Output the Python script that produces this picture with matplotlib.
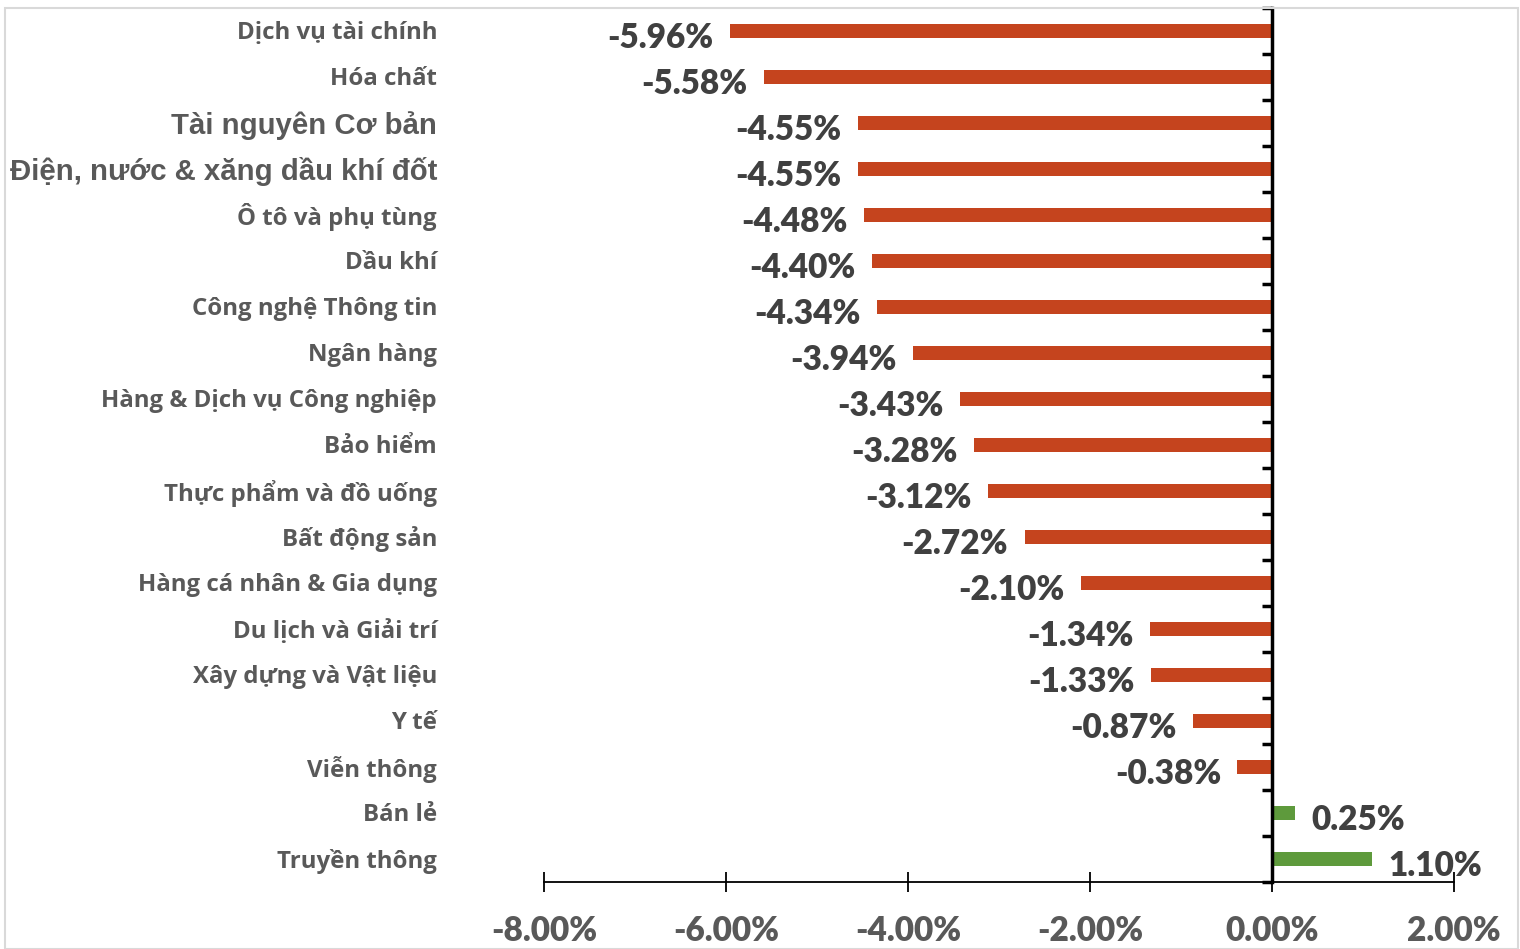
import matplotlib
matplotlib.use("Agg")
import matplotlib.pyplot as plt
from matplotlib.patches import Rectangle

categories = ["Dịch vụ tài chính", "Hóa chất", "Tài nguyên Cơ bản",
              "Điện, nước & xăng dầu khí đốt", "Ô tô và phụ tùng", "Dầu khí",
              "Công nghệ Thông tin", "Ngân hàng", "Hàng & Dịch vụ Công nghiệp",
              "Bảo hiểm", "Thực phẩm và đồ uống", "Bất động sản",
              "Hàng cá nhân & Gia dụng", "Du lịch và Giải trí",
              "Xây dựng và Vật liệu", "Y tế", "Viễn thông", "Bán lẻ", "Truyền thông"]
values = [-5.96, -5.58, -4.55, -4.55, -4.48, -4.40, -4.34, -3.94, -3.43, -3.28,
          -3.12, -2.72, -2.10, -1.34, -1.33, -0.87, -0.38, 0.25, 1.10]
xticks = [-8, -6, -4, -2, 0, 2]
xticklabels = ["-8.00%", "-6.00%", "-4.00%", "-2.00%", "0.00%", "2.00%"]
big_labels = {"Tài nguyên Cơ bản", "Điện, nước & xăng dầu khí đốt"}

NEG = "#C5441E"
POS = "#5E9A3C"
TXT = "#595959"
LBL = "#404040"

fig = plt.figure(figsize=(15.2, 9.49), dpi=100)
fig.patches.append(Rectangle((0.0035, 0.0), 0.9955, 0.9915, transform=fig.transFigure,
                             fill=False, edgecolor="#D9D9D9", linewidth=1.5))
ax = fig.add_axes([0.3579, 0.0706, 0.5987, 0.921])

n = len(categories)
ypos = list(range(n))
colors = [NEG if v < 0 else POS for v in values]
ax.barh(ypos, values, height=0.3, color=colors, zorder=2)

ax.set_xlim(-8, 2)
ax.set_ylim(n - 0.5, -0.5)

for s in ["top", "right"]:
    ax.spines[s].set_visible(False)
ax.spines["left"].set_position(("data", 0))
ax.spines["left"].set_linewidth(2.5)
ax.spines["left"].set_zorder(3)
ax.spines["bottom"].set_linewidth(1.3)

ax.set_yticks([i - 0.5 for i in range(n + 1)])
ax.set_yticklabels([])
ax.tick_params(axis="y", direction="out", length=7, width=2.5, color="black")

ax.set_xticks(xticks)
ax.set_xticklabels(xticklabels, fontsize=24, fontweight=800, color=TXT,
                   family="Lato")
ax.tick_params(axis="x", direction="inout", length=14, width=1.3, pad=17)

for i, (c, v) in enumerate(zip(categories, values)):
    if c in big_labels:
        ax.text(-0.1175, i + 0.05, c, transform=ax.get_yaxis_transform(), ha="right",
                va="center", fontsize=21.2, fontweight="bold", color=TXT,
                family="Liberation Sans")
    else:
        ax.text(-0.1175, i + 0.05, c, transform=ax.get_yaxis_transform(), ha="right",
                va="center", fontsize=17.3, fontweight="bold", color=TXT,
                family="Open Sans")
    off = 0.18
    if v < 0:
        ax.text(v - off, i + 0.15, f"{v:.2f}%", ha="right", va="center",
                fontsize=24, fontweight=800, color=LBL, family="Lato")
    else:
        ax.text(v + off, i + 0.15, f"{v:.2f}%", ha="left", va="center",
                fontsize=24, fontweight=800, color=LBL, family="Lato")

fig.savefig("out.png", dpi=100)
